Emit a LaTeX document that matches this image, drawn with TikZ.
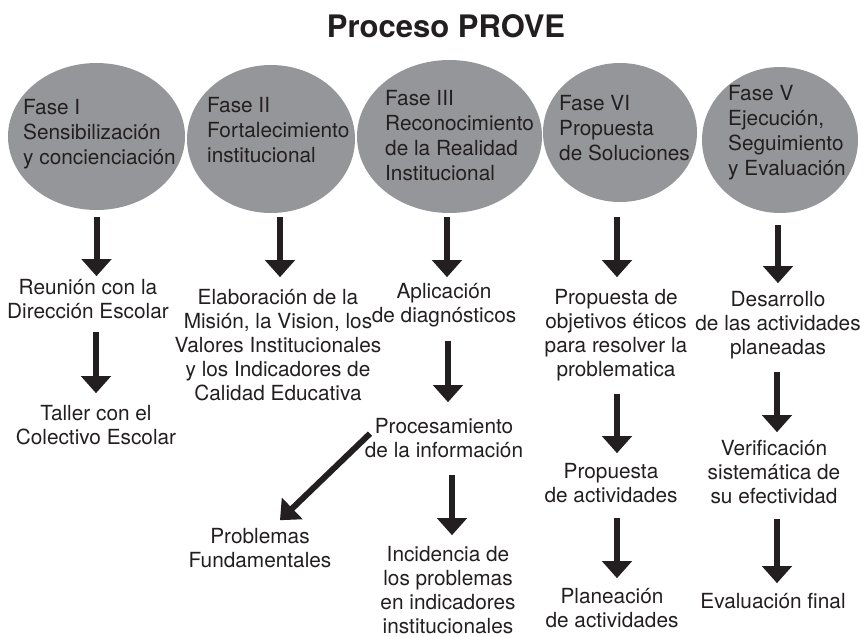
\documentclass[tikz,border=0pt]{standalone}
\usepackage{fontspec}
\setmainfont{TeX Gyre Heros}
\usetikzlibrary{arrows.meta,calc,shapes.geometric}
\definecolor{ink}{RGB}{35,31,32}
\definecolor{ellgray}{RGB}{149,150,153}
\newcommand{\tfont}{\fontsize{20.8}{24}\selectfont}
\newcommand{\efont}{\fontsize{20.8}{25}\selectfont}
\begin{document}
\begin{tikzpicture}[x=1pt,y=-1pt,
  ell/.style={ellipse, fill=ellgray, draw=none, inner sep=0pt},
  etxt/.style={font=\efont, text=ink, align=left, inner sep=0pt, anchor=north west, execute at begin node=\strut},
  txt/.style={font=\tfont, text=ink, align=center, inner sep=0pt, anchor=north, execute at begin node=\strut, execute at end node=\strut},
  arr/.style={draw=ink, line width=6pt, -{Triangle[width=29pt,length=17pt,fill=ink]}}
]
\useasboundingbox (0,0) rectangle (865,637);

\node[font=\fontsize{31}{36}\selectfont\bfseries, text=ink, anchor=base, inner sep=0pt] (title) at (446,37) {Proceso PROVE};

% ellipses
\node[ell, minimum width=177pt, minimum height=147pt] (e1) at (96.5,136.5) {};
\node[ell, minimum width=168pt, minimum height=148pt] (e2) at (271,139) {};
\node[ell, minimum width=185pt, minimum height=153pt] (e3) at (449.5,136.5) {};
\node[ell, minimum width=154pt, minimum height=139pt] (e4) at (620,132.5) {};
\node[ell, minimum width=156pt, minimum height=146pt] (e5) at (780,140) {};

\node[etxt] (e1t) at (23,99.5) {Fase I\\Sensibilización\\y concienciación};
\node[etxt] (e2t) at (207,97.5) {Fase II\\Fortalecimiento\\institucional};
\node[etxt] (e3t) at (385,90.5) {Fase III\\Reconocimiento\\de la Realidad\\Institucional};
\node[etxt] (e4t) at (559,95.5) {Fase VI\\Propuesta\\de Soluciones};
\node[etxt] (e5t) at (728,85.5) {Fase V\\Ejecución,\\Seguimiento\\y Evaluación};

% texts
\node[txt] (t1a) at (88,279.2) {Reunión con la\\Dirección Escolar};
\node[txt] (t1b) at (96,405.2) {Taller con el\\Colectivo Escolar};
\node[txt] (t2) at (278,289.2) {Elaboración de la\\Misión, la Vision, los\\Valores Institucionales\\y los Indicadores de\\Calidad Educativa};
\node[txt] (t3a) at (444,283.2) {Aplicación\\de diagnósticos};
\node[txt] (t3b) at (444,418.2) {Procesamiento\\de la información};
\node[txt] (t3c) at (260,528.2) {Problemas\\Fundamentales};
\node[txt] (t3d) at (448,546.2) {Incidencia de\\los problemas\\en indicadores\\institucionales};
\node[txt] (t4a) at (616,289.2) {Propuesta de\\objetivos éticos\\para resolver la\\problematica};
\node[txt] (t4b) at (611,463.2) {Propuesta\\de actividades};
\node[txt] (t4c) at (612,588.2) {Planeación\\de actividades};
\node[txt] (t5a) at (778,291.2) {Desarrollo\\de las actividades\\planeadas};
\node[txt] (t5b) at (774,440.2) {Verificación\\sistemática de\\su efectividad};
\node[txt] (t5c) at (773,591.2) {Evaluación final};

% arrows
\draw[arr] ($(e1.south)+(0,7)$) -- ($(e1.south |- t1a.north)+(0,-3)$);
\draw[arr] ($(t1a.south -| t1b.north)+(0,6)$) -- ($(t1b.north)+(0,-12)$);
\draw[arr] ($(t2.north |- e2.south)+(2,4)$) -- ($(t2.north)+(2,-12)$);
\draw[arr] ($(e3.south)+(-2.5,4)$) -- ($(e3.south |- t3a.north)+(-2.5,-6)$);
\draw[arr] ($(t3a.south)+(4,11)$) -- ($(t3b.north)+(4,-16)$);
\draw[arr] ($(t3b.center)+(-74,-8)$) -- ($(t3c.north)+(20,-8)$);
\draw[arr] ($(t3b.south -| t3d.north)+(4,10)$) -- ($(t3d.north)+(4,-11)$);
\draw[arr] ($(e4.south)+(-3,15)$) -- ($(e4.south |- t4a.north)+(-3,-12)$);
\draw[arr] ($(t4a.south)+(1,10)$) -- ($(t4a.south |- t4b.north)+(1,-10)$);
\draw[arr] ($(t4b.south)+(6,8)$) -- ($(t4b.south |- t4c.north)+(6,-10)$);
\draw[arr] ($(e5.south)+(-2,12)$) -- ($(e5.south |- t5a.north)+(-2,-8)$);
\draw[arr] ($(t5a.south)+(-1,10)$) -- ($(t5a.south |- t5b.north)+(-1,-8)$);
\draw[arr] ($(t5b.south)+(3,8)$) -- ($(t5b.south |- t5c.north)+(3,-8)$);
\end{tikzpicture}
\end{document}
